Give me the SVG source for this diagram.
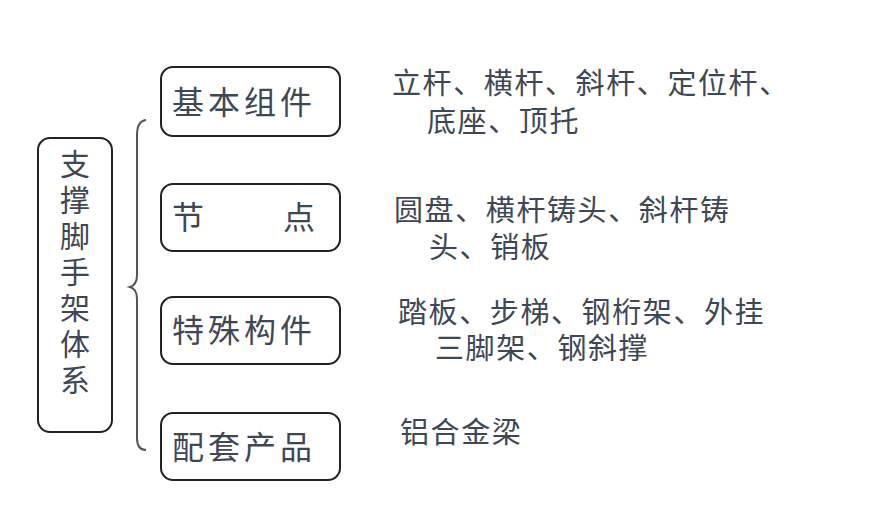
<svg xmlns="http://www.w3.org/2000/svg" width="869" height="512" viewBox="0 0 869 512">
<style>
.b{fill:#fff;stroke:#222;stroke-width:2}
.t{font-family:"Noto Sans CJK SC",sans-serif;fill:#3e4756;font-size:32px;letter-spacing:4px}
.c{font-family:"Noto Sans CJK SC",sans-serif;fill:#3e4756;font-size:30px;writing-mode:vertical-rl;letter-spacing:6px}
.r{font-family:"Noto Sans CJK SC",sans-serif;fill:#3e4756;font-size:29px;letter-spacing:1.6px}
</style>
<rect width="869" height="512" fill="#fff"/>
<g id="root"><rect class="b" x="38" y="138" width="74" height="294" rx="12"/>
<text class="c" x="75" y="149">支撑脚手架体系</text></g>
<g id="connectors"><path d="M146 120 Q137 121 137 135 L137 275 Q137 285 130 287 Q137 289 137 299 L137 438 Q137 450 146 450" fill="none" stroke="#555" stroke-width="2"/></g>
<g id="n1"><rect class="b" x="161" y="67" width="179" height="69" rx="12"/><text class="t" x="172" y="114">基本组件</text></g>
<g id="n2"><rect class="b" x="161" y="184" width="179" height="67" rx="12"/><text class="t" x="172" y="229">节</text><text class="t" x="283" y="229">点</text></g>
<g id="n3"><rect class="b" x="161" y="297" width="179" height="67" rx="12"/><text class="t" x="172" y="342">特殊构件</text></g>
<g id="n4"><rect class="b" x="161" y="413" width="179" height="67" rx="12"/><text class="t" x="172" y="459">配套产品</text></g>
<g id="labels">
<text class="r" x="392" y="94">立杆、横杆、斜杆、定位杆、</text>
<text class="r" x="427" y="132">底座、顶托</text>
<text class="r" x="394" y="221">圆盘、横杆铸头、斜杆铸</text>
<text class="r" x="429" y="258">头、销板</text>
<text class="r" x="398" y="323">踏板、步梯、钢桁架、外挂</text>
<text class="r" x="435" y="359">三脚架、钢斜撑</text>
<text class="r" x="400" y="443">铝合金梁</text></g>
</svg>
